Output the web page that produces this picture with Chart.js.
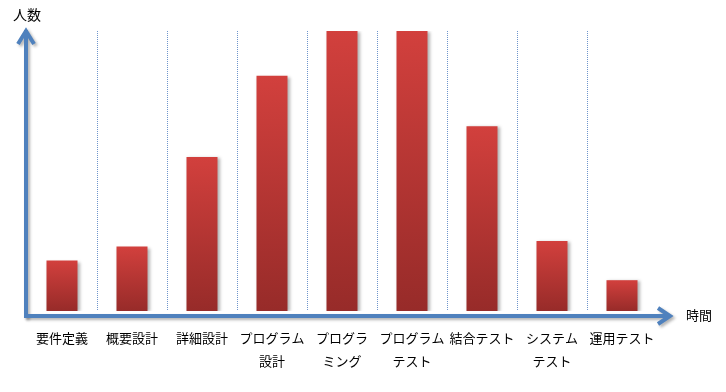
<!DOCTYPE html>
<html>
<head>
<meta charset="utf-8">
<script src="https://cdn.jsdelivr.net/npm/chart.js@4/dist/chart.umd.min.js"></script>
<style>
  body { margin: 0; background: #fff; }
  #wrap { width: 726px; height: 392px; }
</style>
</head>
<body>
<div id="wrap"><canvas id="phaseChart"></canvas></div>
<script>
// 工程ごとの人数（相対値）
var categories = ["要件定義", "概要設計", "詳細設計", ["プログラム", "設計"], ["プログラ", "ミング"],
  ["プログラム", "テスト"], "結合テスト", ["システム", "テスト"], "運用テスト"];
var people = [18, 23, 55, 84, 100, 100, 66, 25, 11];
var yTitle = "人数";
var xTitle = "時間";

var JP_FONT = "'Noto Sans CJK JP', 'Noto Sans', sans-serif";
var AXIS_BLUE = "#4f81bd";

// bar gradient, bright red at the top of each bar, dark at the bottom
function barGradient(ctx) {
  var chart = ctx.chart;
  var area = chart.chartArea;
  if (!area || !chart.scales.y) return "#c0392f";
  var top = chart.scales.y.getPixelForValue(ctx.raw);
  var g = chart.ctx.createLinearGradient(0, top, 0, area.bottom);
  g.addColorStop(0, "#d2403d");
  g.addColorStop(1, "#972b29");
  return g;
}

var barShadow = {
  id: "barShadow",
  beforeDatasetsDraw: function (chart) {
    var c = chart.ctx;
    c.save();
    c.shadowColor = "rgba(0,0,0,0.3)";
    c.shadowBlur = 3;
    c.shadowOffsetX = 2;
    c.shadowOffsetY = 1;
  },
  afterDatasetsDraw: function (chart) {
    chart.ctx.restore();
  }
};

// blue arrow axes and the two axis captions
var arrowAxes = {
  id: "arrowAxes",
  afterDraw: function (chart) {
    var c = chart.ctx;
    var area = chart.chartArea;
    var x0 = area.left - 1;
    var y0 = area.bottom + 5;
    c.save();
    c.shadowColor = "rgba(0,0,0,0.3)";
    c.shadowBlur = 3;
    c.shadowOffsetX = 2;
    c.shadowOffsetY = 2;
    c.strokeStyle = AXIS_BLUE;
    c.lineWidth = 4;
    c.lineJoin = "miter";

    c.beginPath();
    c.moveTo(x0, y0 + 2);
    c.lineTo(x0, 30);
    c.moveTo(x0 - 8, 44);
    c.lineTo(x0, 31);
    c.lineTo(x0 + 8, 44);
    c.stroke();

    c.beginPath();
    c.moveTo(x0 - 2, y0);
    c.lineTo(670, y0);
    c.moveTo(658, y0 - 8);
    c.lineTo(670, y0);
    c.lineTo(658, y0 + 8);
    c.stroke();
    c.restore();

    c.save();
    c.fillStyle = "#000";
    c.textBaseline = "middle";
    c.font = "14px " + JP_FONT;
    c.textAlign = "center";
    c.fillText(yTitle, x0 + 1, 15);
    c.font = "13px " + JP_FONT;
    c.textAlign = "left";
    c.fillText(xTitle, 686, y0 - 1);
    c.restore();
  }
};

var ctx = document.getElementById("phaseChart");

var chart = new Chart(ctx, {
  type: "bar",
  data: {
    labels: categories,
    datasets: [{
      label: yTitle,
      data: people,
      backgroundColor: barGradient,
      borderWidth: 0,
      categoryPercentage: 1,
      barPercentage: 0.443
    }]
  },
  options: {
    responsive: true,
    maintainAspectRatio: false,
    animation: false,
    layout: {
      padding: { left: 27, right: 69, top: 31, bottom: 19 }
    },
    plugins: {
      legend: { display: false },
      tooltip: { enabled: false }
    },
    scales: {
      x: {
        offset: true,
        afterFit: function (scale) { scale.height = 62; },
        grid: {
          offset: true,
          drawTicks: false,
          lineWidth: 1,
          color: function (c) {
            if (c.index === 0 || c.index === undefined) return "rgba(0,0,0,0)";
            return "#6f95cc";
          }
        },
        border: { display: false, dash: [1, 1] },
        ticks: {
          autoSkip: false,
          maxRotation: 0,
          minRotation: 0,
          padding: 16,
          color: "#000",
          font: { family: JP_FONT, size: 13, lineHeight: 1.77 }
        }
      },
      y: {
        display: false,
        min: 0,
        max: 100
      }
    }
  },
  plugins: [barShadow, arrowAxes]
});
</script>
</body>
</html>
